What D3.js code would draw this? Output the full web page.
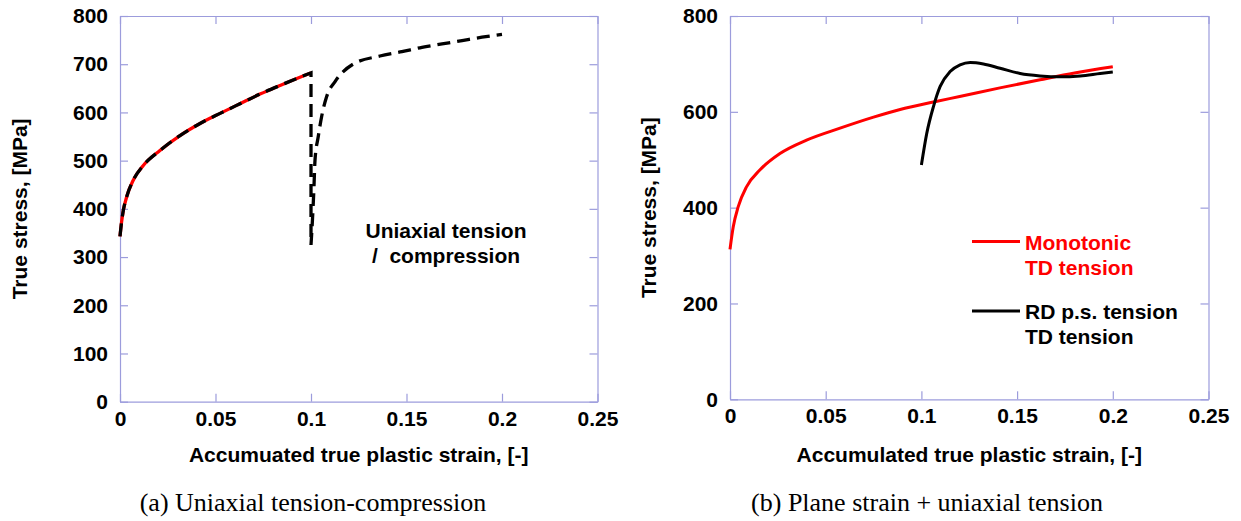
<!DOCTYPE html>
<html>
<head>
<meta charset="utf-8">
<script src="https://cdn.jsdelivr.net/npm/d3@7"></script>
<style>
body{margin:0;background:#fff}
svg text{font-family:"Liberation Sans",Arial,sans-serif;font-weight:bold;font-size:21px;fill:#000}
svg text.cap{font-family:"Liberation Serif","Times New Roman",serif;font-weight:normal;font-size:26px}
</style>
</head>
<body>
<svg id="fig" width="1241" height="521"></svg>
<script>
// strain ticks shared by both panels
var strainTicks = [0, 0.05, 0.1, 0.15, 0.2, 0.25];
var stressTicksA = [0, 100, 200, 300, 400, 500, 600, 700, 800];
var stressTicksB = [0, 200, 400, 600, 800];

// (a) monotonic tension
var tensionA = [[0,343],[0.0008,372],[0.0018,398],[0.0035,425],[0.007,460],[0.0122,490],
  [0.0209,521],[0.0314,552],[0.0419,577],[0.0524,598],[0.0628,618],[0.0733,638],
  [0.0838,656],[0.0942,673],[0.1,682]];
// (a) reversal into compression (dashed, after the drop at 0.1)
var compressionA = [[0.1,325],[0.1008,380],[0.1015,440],[0.1021,501],[0.1038,550],[0.1056,592],
  [0.1082,633],[0.1126,664],[0.122,700],[0.1361,717],[0.1476,726],[0.1581,735],
  [0.1686,742],[0.1791,749],[0.1895,756],[0.2,762]];

// (b) monotonic TD tension
var monotonicB = [[0,313],[0.0017,360],[0.0043,402],[0.0087,444],[0.0157,479],[0.0261,513],
  [0.04,541],[0.0575,566],[0.075,589],[0.0889,605],[0.107,621],[0.12,632],[0.141,650],
  [0.162,667],[0.18,681],[0.2,694]];
// (b) RD plane strain tension then TD tension
var strainPathB = [[0.1,489],[0.1028,555],[0.1063,611],[0.1098,653],[0.115,684],[0.1202,698],
  [0.1255,703],[0.1324,700],[0.1411,691],[0.1516,680],[0.162,675],[0.1725,673],
  [0.183,675],[0.1934,680],[0.2,683]];

var axisCol = "#9c9cdc";
var svg = d3.select("#fig");
svg.append("rect").attr("width",1241).attr("height",521).attr("fill","#fff");

function styleAxis(g){
  g.select(".domain").attr("stroke",axisCol).attr("stroke-width",1.2);
  g.selectAll(".tick line").attr("stroke",axisCol).attr("stroke-width",1.2);
}

function panel(left, right, top, bottom, yTicks, xTitle, titleX){
  var x = d3.scaleLinear().domain([0,0.25]).range([left,right]);
  var y = d3.scaleLinear().domain([0,800]).range([bottom,top]);

  svg.append("g").attr("transform","translate(0,"+bottom+")")
    .call(d3.axisBottom(x).tickValues(strainTicks).tickSizeInner(-8).tickSizeOuter(0)
      .tickPadding(9).tickFormat(function(d){ return String(d); }))
    .call(styleAxis);
  svg.append("g").attr("transform","translate(0,"+top+")")
    .call(d3.axisTop(x).tickValues(strainTicks).tickSizeInner(-8).tickSizeOuter(0).tickFormat(""))
    .call(styleAxis);
  svg.append("g").attr("transform","translate("+left+",0)")
    .call(d3.axisLeft(y).tickValues(yTicks).tickSizeInner(-8).tickSizeOuter(0).tickPadding(12))
    .call(styleAxis);
  svg.append("g").attr("transform","translate("+right+",0)")
    .call(d3.axisRight(y).tickValues(yTicks).tickSizeInner(-8).tickSizeOuter(0).tickFormat(""))
    .call(styleAxis);

  svg.append("text").attr("x",(left+right)/2).attr("y",462)
    .attr("text-anchor","middle").text(xTitle);
  svg.append("text")
    .attr("transform","translate("+titleX+","+((top+bottom)/2)+") rotate(-90)")
    .attr("text-anchor","middle").text("True stress, [MPa]");

  return {x:x, y:y};
}

function mono(s){
  return d3.line().x(function(d){ return s.x(d[0]); }).y(function(d){ return s.y(d[1]); })
    .curve(d3.curveMonotoneX);
}

// ---- (a)
var sa = panel(120, 597.5, 16, 401.7, stressTicksA, "Accumuated true plastic strain, [-]", 27);
var la = mono(sa);
svg.append("path").attr("d",la(tensionA))
  .attr("fill","none").attr("stroke","#ff0000").attr("stroke-width",3.3);
// one continuous dashed path: tension, straight drop at 0.1, then compression
svg.append("path").attr("d",la(tensionA) + la(compressionA).replace(/^M/,"L"))
  .attr("fill","none").attr("stroke","#000").attr("stroke-width",3.3)
  .attr("stroke-dasharray","13,7");

svg.append("text").attr("x",446).attr("y",238).attr("text-anchor","middle").text("Uniaxial tension");
svg.append("text").attr("x",446).attr("y",263).attr("text-anchor","middle")
  .attr("xml:space","preserve").style("white-space","pre").text("/  compression");

// ---- (b)
var sb = panel(730, 1208.5, 16, 399.3, stressTicksB, "Accumulated true plastic strain, [-]", 656);
var lb = mono(sb);
svg.append("path").attr("d",lb(monotonicB))
  .attr("fill","none").attr("stroke","#ff0000").attr("stroke-width",3);
svg.append("path").attr("d",lb(strainPathB))
  .attr("fill","none").attr("stroke","#000").attr("stroke-width",3);

// legend
var legend = [
  {col:"#ff0000", ly:241.5, lines:["Monotonic","TD tension"], ty:250},
  {col:"#000", ly:311, lines:["RD p.s. tension","TD tension"], ty:319}
];
legend.forEach(function(l){
  svg.append("line").attr("x1",972).attr("x2",1020).attr("y1",l.ly).attr("y2",l.ly)
    .attr("stroke",l.col).attr("stroke-width",3);
  l.lines.forEach(function(t,i){
    svg.append("text").attr("x",1025).attr("y",l.ty+i*25).style("fill",l.col).text(t);
  });
});

// captions
svg.append("text").attr("class","cap").attr("x",313).attr("y",511).attr("text-anchor","middle")
  .text("(a) Uniaxial tension-compression");
svg.append("text").attr("class","cap").attr("x",927).attr("y",511).attr("text-anchor","middle")
  .text("(b) Plane strain + uniaxial tension");
</script>
</body>
</html>
